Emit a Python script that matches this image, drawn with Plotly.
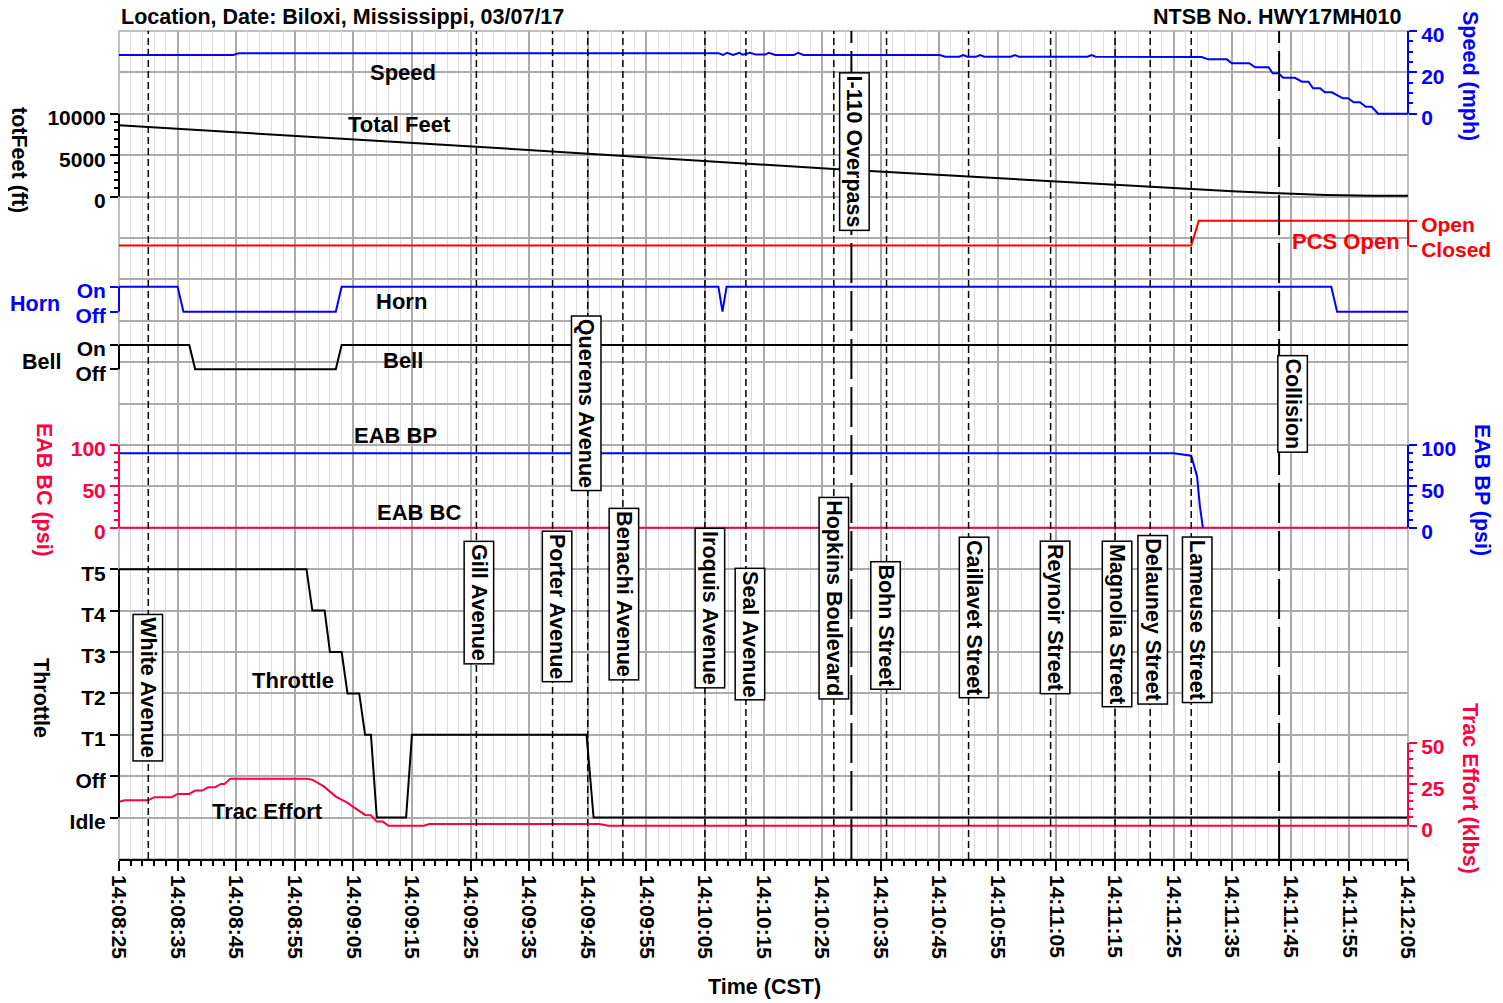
import pandas as pd
import plotly.graph_objects as go

# ---------------- data (times are seconds after 14:08:25) ----------------
START = pd.Timestamp("2017-03-07 14:08:25")
END = pd.Timestamp("2017-03-07 14:12:05")

speed_t = [0, 19.5, 20.5, 102.3, 103.1, 103.8, 104.8, 105.9, 106.4, 107.7, 108.7, 110.3, 110.9, 112,
           115.2, 115.9, 116.8, 140.1, 141, 143.4, 144.1, 144.8, 146.3, 147, 147.7, 152.2, 152.9, 153.6,
           165.3, 166, 166.7, 184.8, 185.9, 189.1, 189.9, 192.9, 193.9, 196.2, 196.9, 197.9, 198.7,
           200.7, 201.9, 203, 203.8, 205, 205.8, 207, 208.9, 209.8, 210.7, 211.8, 212.8, 213.8, 214.9, 220]
speed_mph = [28.4, 28.4, 29.3, 29.3, 28.4, 29.5, 28.4, 29.5, 28.6, 29.5, 28.6, 28.6, 29.5, 28.4,
             28.4, 29.5, 28.4, 28.4, 27.6, 27.6, 28.4, 27.6, 27.6, 28.4, 27.6, 27.6, 28.4, 27.6,
             27.6, 28.4, 27.6, 27.4, 26.3, 26.3, 24.4, 24.4, 22.5, 22.5, 19.6, 19.6, 17.4,
             17.4, 15.5, 15.5, 12.3, 12.3, 10.4, 10.4, 7.5, 7.5, 5.6, 5.6, 3.4, 3.4, 0, 0]

feet_t = [0, 61, 122, 150, 159, 170, 176, 183, 190, 198, 206, 214, 220]
tot_feet = [8610, 6030, 3330, 2210, 1800, 1400, 1200, 920, 640, 400, 190, 100, 100]

pcs_t = [0, 183, 184.3, 220]
pcs_open = [0, 0, 1, 1]            # 0 = Closed, 1 = Open

horn_t = [0, 10, 11, 37, 38, 102.3, 103, 103.7, 206.9, 207.9, 220]
horn_on = [1, 1, 0, 0, 1, 1, 0, 1, 1, 0, 0]

bell_t = [0, 12, 13, 37, 38, 220]
bell_on = [1, 1, 0, 0, 1, 1]

eab_bp_t = [0, 180, 183, 184, 184.5, 185]
eab_bp_psi = [90, 90, 87, 62, 25, 0]

eab_bc_t = [0, 220]
eab_bc_psi = [0, 0]

throttle_levels = ["Idle", "Off", "T1", "T2", "T3", "T4", "T5"]
throttle_t = [0, 32, 33, 35.1, 36, 38, 39, 41, 42, 43, 44, 49, 50, 79.8, 81, 220]
throttle_pos = ["T5", "T5", "T4", "T4", "T3", "T3", "T2", "T2", "T1", "T1", "Idle", "Idle",
                "T1", "T1", "Idle", "Idle"]

trac_t = [0, 1, 5, 6, 9, 10, 12, 13, 14.2, 15.2, 16.4, 17.4, 18, 19, 32, 33, 35, 37, 38.8,
          40.8, 42, 43, 44, 45, 46, 52, 53, 82, 83.5, 220]
trac_klbs = [14.5, 15.3, 15.3, 17.2, 17.2, 19.2, 19.2, 21.2, 21.2, 23.2, 23.2, 25.2, 25.2, 28.3,
             28.3, 27.8, 23.6, 17.6, 14.2, 9.5, 6.5, 6.3, 2.5, 2.5, 0, 0, 1, 1, 0, 0]

event_names = ["White Avenue", "Gill Avenue", "Porter Avenue", "Querens Avenue", "Benachi Avenue",
               "Iroquis Avenue", "Seal Avenue", "Hopkins Boulevard", "I-110 Overpass", "Bohn Street",
               "Caillavet Street", "Reynoir Street", "Magnolia Street", "Delauney Street",
               "Lameuse Street", "Collision"]
event_t = [5, 61, 74, 80, 86, 100, 107, 122, 125, 131, 145, 159, 170, 176, 183, 198]

# ---------------- layout helpers ----------------
FONT = "Liberation Sans, Arial, sans-serif"
BLUE = "#0000FF"
RED = "#FF0000"
PINK = "#FF0040"
OFF = 8                       # page body margin
W, H = 1503 - OFF, 1003 - OFF
L, R, TOP, BOT = 119, 1408, 31, 859   # plot area in page pixels


def T(secs):
    return [START + pd.Timedelta(seconds=s) for s in secs]


def px(x):
    return (x - L) / (R - L)


def py(y):
    return (BOT - y) / (BOT - TOP)


def unit(y):  # grid units (20 rows)
    return (BOT - y) / ((BOT - TOP) / 20)


def rng(v0, y0, v1, y1):
    g0, g1 = unit(y0), unit(y1)
    s = (v1 - v0) / (g1 - g0)
    return [v0 - g0 * s, v0 + (20 - g0) * s]


def yax(side, color, r, tickvals, ticktext=None, minor=None):
    d = dict(overlaying="y", anchor="x", side=side, range=r, showgrid=False, zeroline=False,
             showline=False, tickmode="array", tickvals=tickvals, ticks="outside", ticklen=8,
             tickwidth=2, tickcolor=color, fixedrange=True, ticklabelshift=4,
             tickfont=dict(family=FONT, size=21, color=color, weight="bold"))
    if ticktext is not None:
        d["ticktext"] = ticktext
    if minor is not None:
        d["minor"] = dict(tickmode="array", tickvals=minor, ticks="outside", ticklen=4,
                          tickwidth=2, tickcolor=color, showgrid=False)
    return d


fig = go.Figure()

# invisible anchor trace for the base grid axis
fig.add_trace(go.Scatter(x=[START, END], y=[0, 20], yaxis="y", mode="markers",
                         marker=dict(opacity=0), showlegend=False, hoverinfo="skip"))

throttle_num = [throttle_levels.index(p) for p in throttle_pos]

traces = [
    (speed_t, speed_mph, "y2", BLUE),
    (feet_t, tot_feet, "y3", "black"),
    (pcs_t, pcs_open, "y4", RED),
    (horn_t, horn_on, "y5", BLUE),
    (bell_t, bell_on, "y6", "black"),
    (eab_bc_t, eab_bc_psi, "y7", PINK),
    (eab_bp_t, eab_bp_psi, "y8", BLUE),
    (throttle_t, throttle_num, "y9", "black"),
    (trac_t, trac_klbs, "y10", PINK),
]
for xs, ys, ya, c in traces:
    fig.add_trace(go.Scatter(x=T(xs), y=ys, yaxis=ya, mode="lines",
                             line=dict(color=c, width=2), showlegend=False, hoverinfo="skip"))

layout_axes = dict(
    yaxis=dict(range=[0, 20], tickmode="linear", tick0=0, dtick=1, showgrid=True,
               gridcolor="#ababab", gridwidth=1.5, showticklabels=False, ticks="",
               zeroline=False, showline=False, fixedrange=True),
    yaxis2=yax("right", BLUE, rng(0, 113.8, 40, 31), [0, 20, 40], minor=[5, 10, 15, 25, 30, 35]),
    yaxis3=yax("left", "black", rng(0, 196.6, 10000, 113.8), [0, 5000, 10000],
               ["0", "5000", "10000"], minor=[1000, 2000, 3000, 4000, 6000, 7000, 8000, 9000]),
    yaxis4=yax("right", RED, rng(0, 245.5, 1, 220.7), [0, 1], ["Closed", "Open"]),
    yaxis5=yax("left", BLUE, rng(0, 311.7, 1, 286.7), [0, 1], ["Off", "On"]),
    yaxis6=yax("left", "black", rng(0, 369.3, 1, 345), [0, 1], ["Off", "On"]),
    yaxis7=yax("left", PINK, rng(0, 527.8, 100, 445), [0, 50, 100],
               minor=[10, 20, 30, 40, 60, 70, 80, 90]),
    yaxis8=yax("right", BLUE, rng(0, 527.8, 100, 445), [0, 50, 100],
               minor=[10, 20, 30, 40, 60, 70, 80, 90]),
    yaxis9=yax("left", "black", rng(0, 817.6, 6, 569.2), list(range(7)), throttle_levels),
    yaxis10=yax("right", PINK, rng(0, 825.7, 50, 742.9), [0, 25, 50],
                minor=[5, 10, 15, 20, 30, 35, 40, 45]),
)

shapes = []
# axis line segments / brackets
for ya, xp, y0, y1, c in [("y2", 1, 0, 40, BLUE), ("y3", 0, 0, 10000, "black"), ("y4", 1, 0, 1, RED),
                          ("y5", 0, 0, 1, BLUE), ("y6", 0, 0, 1, "black"), ("y7", 0, 0, 100, PINK),
                          ("y8", 1, 0, 100, BLUE), ("y9", 0, 0, 6, "black"), ("y10", 1, 0, 50, PINK)]:
    shapes.append(dict(type="line", xref="paper", x0=xp, x1=xp, yref=ya, y0=y0, y1=y1,
                       line=dict(color=c, width=2), layer="above"))
# top / right border
shapes.append(dict(type="rect", xref="paper", yref="paper", x0=0, x1=1, y0=0, y1=1,
                   line=dict(color="#ababab", width=1.5), layer="between"))

# event lines
for name, t in zip(event_names, event_t):
    long = name in ("I-110 Overpass", "Collision")
    shapes.append(dict(type="line", xref="x", yref="paper", x0=T([t])[0], x1=T([t])[0], y0=0, y1=1,
                       line=dict(color="black", width=2 if long else 1.5,
                                 dash="40px,8px" if long else "7px,4px"), layer="above"))

annotations = []
# event labels: (top pixel, xshift)
label_pos = {
    "White Avenue": (614, 0), "Gill Avenue": (541, 3), "Porter Avenue": (530, 5),
    "Querens Avenue": (315, -1), "Benachi Avenue": (508, 1), "Iroquis Avenue": (528, 5),
    "Seal Avenue": (568, 4), "Hopkins Boulevard": (497, 0), "I-110 Overpass": (72, 3),
    "Bohn Street": (561, -1), "Caillavet Street": (536, 6), "Reynoir Street": (540, 5),
    "Magnolia Street": (540, 2), "Delauney Street": (535, 3), "Lameuse Street": (536, 6),
    "Collision": (355, 13),
}
for name, t in zip(event_names, event_t):
    top, xs = label_pos[name]
    annotations.append(dict(x=T([t])[0], xref="x", y=py(top), yref="paper", text=name,
                            textangle=90, showarrow=False, xanchor="center", yanchor="top",
                            xshift=xs, bgcolor="white", bordercolor="black", borderwidth=1.5,
                            borderpad=2, font=dict(family=FONT, size=21.5, color="black", weight="bold")))


def txt(text, x, y, color="black", angle=0, xanchor="center", size=22):
    annotations.append(dict(x=px(x), y=py(y), xref="paper", yref="paper", text=text,
                            showarrow=False, textangle=angle, xanchor=xanchor, yanchor="middle",
                            font=dict(family=FONT, size=size, color=color, weight="bold")))


# series labels inside plot
txt("Speed", 403, 72)
txt("Total Feet", 399, 124)
txt("Horn", 401, 301)
txt("Bell", 403, 360)
txt("EAB BP", 395, 436)
txt("EAB BC", 419, 512)
txt("Throttle", 293, 680)
txt("Trac Effort", 267, 811)
txt("PCS Open", 1346, 241, RED)
# axis titles
txt("totFeet (ft)", 19, 160, angle=90, size=21.5)
txt("Horn", 35, 304, BLUE, size=21.5)
txt("Bell", 41, 362, size=21.5)
txt("EAB BC (psi)", 44, 490, PINK, 90, size=21.5)
txt("Throttle", 41, 698, angle=90, size=21.5)
txt("Speed (mph)", 1470, 76, BLUE, 90, size=21.5)
txt("EAB BP (psi)", 1482, 490, BLUE, 90, size=21.5)
txt("Trac Effort (klbs)", 1470, 788, PINK, 90, size=21.5)
txt("Time (CST)", 764, 987, size=21.5)
txt("Location, Date: Biloxi, Mississippi, 03/07/17", 119, 17, xanchor="left", size=21.5)
txt("NTSB No. HWY17MH010", 1404, 17, xanchor="right", size=21.5)

fig.update_layout(
    width=W, height=H,
    margin=dict(l=L - OFF, r=W - (R - OFF), t=TOP - OFF, b=H - (BOT - OFF), autoexpand=False),
    paper_bgcolor="white", plot_bgcolor="white",
    showlegend=False,
    xaxis=dict(type="date", range=[START, END], tickformat="%H:%M:%S", tick0=START, dtick=10000,
               tickangle=90, ticks="outside", ticklen=10, tickwidth=1.5, tickcolor="black",
               showline=True, linecolor="black", linewidth=1.5, showgrid=True,
               gridcolor="#ababab", gridwidth=1.5, zeroline=False, fixedrange=True,
               tickfont=dict(family=FONT, size=21, color="black", weight="bold"),
               minor=dict(tick0=START, dtick=2000, ticks="outside", ticklen=5, tickwidth=1.5,
                          tickcolor="black", showgrid=True, gridcolor="#dddddd", gridwidth=1)),
    shapes=shapes,
    annotations=annotations,
    **layout_axes,
)

fig.write_html("out.html")
